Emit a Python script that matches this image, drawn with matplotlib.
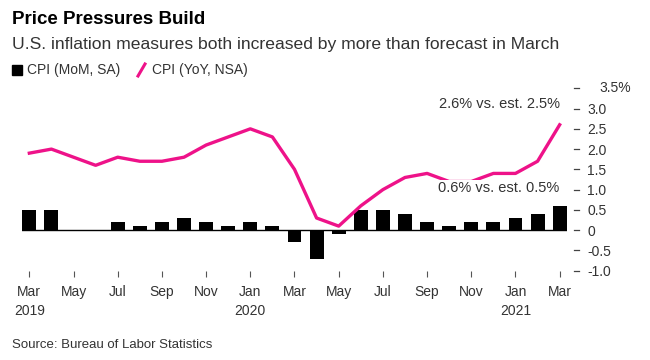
import matplotlib
matplotlib.use("Agg")
import matplotlib.pyplot as plt
import numpy as np
from matplotlib import font_manager

names = {f.name for f in font_manager.fontManager.ttflist}
fam = ["Liberation Sans Narrow", "Liberation Sans", "DejaVu Sans"]
fam = [f for f in fam if f in names] or ["DejaVu Sans"]
plt.rcParams['font.family'] = fam

months = ["Mar", "Apr", "May", "Jun", "Jul", "Aug", "Sep", "Oct", "Nov", "Dec",
          "Jan", "Feb", "Mar", "Apr", "May", "Jun", "Jul", "Aug", "Sep", "Oct",
          "Nov", "Dec", "Jan", "Feb", "Mar"]
cpi_mom = [0.5, 0.5, 0.0, 0.0, 0.2, 0.1, 0.2, 0.3, 0.2, 0.1,
           0.2, 0.1, -0.3, -0.7, -0.1, 0.5, 0.5, 0.4, 0.2, 0.1,
           0.2, 0.2, 0.3, 0.4, 0.6]
cpi_yoy = [1.9, 2.0, 1.8, 1.6, 1.8, 1.7, 1.7, 1.8, 2.1, 2.3,
           2.5, 2.3, 1.5, 0.3, 0.1, 0.6, 1.0, 1.3, 1.4, 1.2,
           1.2, 1.4, 1.4, 1.7, 2.6]
xtick_labels = ["Mar\n2019", "May", "Jul", "Sep", "Nov", "Jan\n2020", "Mar", "May",
                "Jul", "Sep", "Nov", "Jan\n2021", "Mar"]
ytick_vals = [-1.0, -0.5, 0, 0.5, 1.0, 1.5, 2.0, 2.5, 3.0, 3.5]
ytick_labels = ["-1.0", "-0.5", "0", "0.5", "1.0", "1.5", "2.0", "2.5", "3.0", ""]

PINK = "#EE1289"
TXT = "#333333"

fig = plt.figure(figsize=(6.5, 3.6), dpi=100)
AXW = 545.8
ax = fig.add_axes([21.6/650, 1-270.7/360, AXW/650, 182.4/360])

x = np.arange(len(months))
ax.bar(x, cpi_mom, width=0.63, color="black", zorder=2)
ax.plot(x, cpi_yoy, color=PINK, lw=2.4, zorder=3, solid_joinstyle="round")
ax.axhline(0, color="black", lw=1.0, zorder=2.5)

ax.set_xlim(-0.35, len(months) - 1 + 0.35)
ax.set_ylim(-1.0, 3.5)
for s in ax.spines.values():
    s.set_visible(False)

ax.set_xticks(x[::2])
ax.set_xticklabels(xtick_labels, fontsize=10, color=TXT, linespacing=1.5)
ax.tick_params(axis="x", length=4, width=0.8, color="#555555", pad=6)

ax.yaxis.tick_right()
ax.set_yticks(ytick_vals)
ax.set_yticklabels(ytick_labels, fontsize=10, color=TXT)
for lbl in ax.get_yticklabels():
    lbl.set_horizontalalignment("left")
ax.tick_params(axis="y", length=0, pad=(587.5 - 567.4) * 0.72)

# short dash tick marks to the right of the plot area
ytr = ax.get_yaxis_transform()
for v in ytick_vals:
    ax.plot([1 + 7/AXW, 1 + 11.5/AXW], [v, v], transform=ytr, color="#444444",
            lw=0.9, clip_on=False)

ax.text(1.0 + 32.5/AXW, 3.5, "3.5%", transform=ytr,
        fontsize=10, color=TXT, va="center", ha="left")

ax.text(24.0, 3.12, "2.6% vs. est. 2.5%", fontsize=10.5, color=TXT,
        ha="right", va="center")
ax.text(24.0, 1.05, "0.6% vs. est. 0.5%", fontsize=10.5, color=TXT,
        ha="right", va="center", zorder=4,
        bbox=dict(facecolor="white", edgecolor="none", pad=0.5))

fig.text(12/650, 1-20/360, "Price Pressures Build", fontsize=13.5, fontweight="bold",
         color="black", va="center", ha="left")
fig.text(12/650, 1-44/360, "U.S. inflation measures both increased by more than forecast in March",
         fontsize=12.6, color=TXT, va="center", ha="left")

# legend
fig.patches.append(plt.Rectangle((12/650, 1-75/360), 10/650, 10/360,
                                 transform=fig.transFigure, color="black"))
fig.text(27/650, 1-70/360, "CPI (MoM, SA)", fontsize=10, color=TXT, va="center", ha="left")
fig.lines.append(plt.Line2D([138/650, 145/650], [1-76/360, 1-64/360],
                            transform=fig.transFigure, color=PINK, lw=2.2))
fig.text(152/650, 1-70/360, "CPI (YoY, NSA)", fontsize=10, color=TXT, va="center", ha="left")

fig.text(12/650, 1-345/360, "Source: Bureau of Labor Statistics", fontsize=9.5,
         color=TXT, va="center", ha="left")

fig.savefig("out.png", dpi=100, facecolor="white")
